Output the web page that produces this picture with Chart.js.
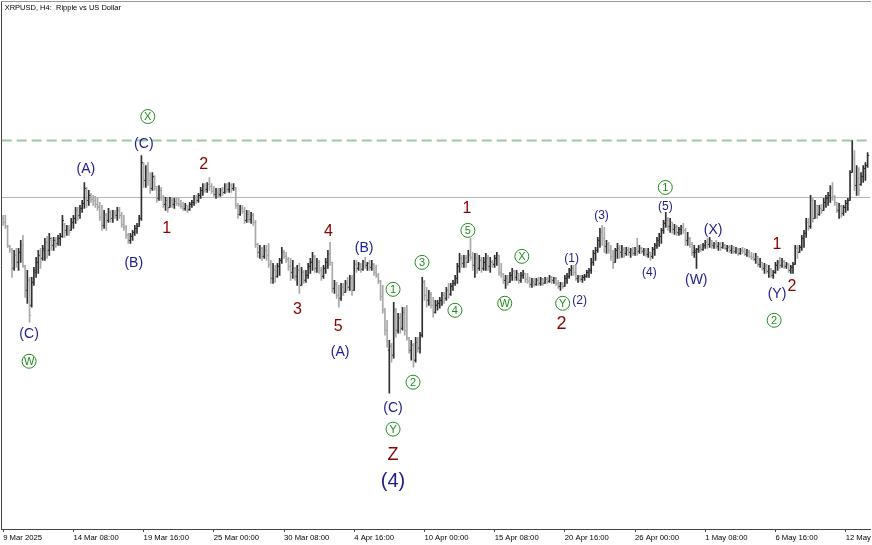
<!DOCTYPE html>
<html lang="en">
<head>
<meta charset="UTF-8">
<title>XRPUSD, H4</title>
<script src="https://cdn.jsdelivr.net/npm/chart.js"></script>
<style>
  body { margin: 0; background: #fff; }
  #wrap { width: 872px; height: 545px; }
</style>
</head>
<body>
<div id="wrap"><canvas id="grafico"></canvas></div>
<script>
const titleText = 'XRPUSD, H4:  Ripple vs US Dollar';

// one label every 32 H4 bars, first bar = 9 Mar 2025 00:00
const tickLabels = ['9 Mar 2025', '14 Mar 08:00', '19 Mar 16:00', '25 Mar 00:00', '30 Mar 08:00',
  '4 Apr 16:00', '10 Apr 00:00', '15 Apr 08:00', '20 Apr 16:00', '26 Apr 00:00',
  '1 May 08:00', '6 May 16:00', '12 May 00:00'];
const barsPerTick = 32;

const highP = [
  2.340,2.340,2.300,2.220,2.208,2.200,2.208,2.208,2.240,2.260,
  2.140,2.120,2.092,2.092,2.132,2.172,2.200,2.208,2.220,2.248,
  2.256,2.268,2.252,2.252,2.252,2.260,2.268,2.340,2.308,2.300,
  2.300,2.328,2.340,2.372,2.372,2.380,2.400,2.472,2.452,2.440,
  2.428,2.420,2.416,2.408,2.392,2.380,2.360,2.348,2.368,2.360,
  2.360,2.360,2.372,2.372,2.352,2.340,2.300,2.268,2.268,2.280,
  2.300,2.308,2.340,2.580,2.552,2.540,2.552,2.512,2.512,2.500,
  2.456,2.460,2.452,2.420,2.412,2.412,2.412,2.408,2.408,2.412,
  2.408,2.400,2.392,2.388,2.380,2.392,2.400,2.420,2.420,2.428,
  2.452,2.468,2.468,2.472,2.492,2.468,2.456,2.448,2.448,2.448,
  2.452,2.468,2.468,2.472,2.468,2.468,2.452,2.388,2.380,2.380,
  2.372,2.360,2.360,2.352,2.348,2.320,2.228,2.220,2.212,2.220,
  2.220,2.228,2.160,2.148,2.140,2.148,2.168,2.212,2.200,2.192,
  2.172,2.168,2.160,2.132,2.140,2.148,2.132,2.120,2.120,2.148,
  2.168,2.192,2.180,2.168,2.160,2.132,2.140,2.168,2.200,2.232,
  2.152,2.080,2.072,2.060,2.068,2.068,2.080,2.092,2.100,2.100,
  2.160,2.160,2.152,2.148,2.160,2.172,2.152,2.160,2.160,2.148,
  2.140,2.108,2.080,2.060,1.968,1.920,1.840,1.828,1.992,1.968,
  1.948,1.948,1.972,1.972,1.980,1.852,1.840,1.828,1.852,1.852,
  1.872,2.092,2.080,2.052,2.040,2.032,2.012,2.000,2.000,2.012,
  2.032,2.032,2.052,2.068,2.068,2.080,2.100,2.148,2.188,2.180,
  2.180,2.180,2.200,2.248,2.192,2.188,2.188,2.180,2.172,2.172,
  2.188,2.180,2.172,2.160,2.180,2.192,2.180,2.148,2.108,2.100,
  2.100,2.112,2.128,2.120,2.120,2.108,2.112,2.120,2.108,2.108,
  2.092,2.088,2.088,2.088,2.092,2.092,2.088,2.092,2.092,2.100,
  2.096,2.092,2.092,2.080,2.072,2.072,2.100,2.108,2.128,2.140,
  2.140,2.140,2.100,2.100,2.100,2.104,2.120,2.128,2.168,2.200,
  2.212,2.252,2.288,2.300,2.292,2.240,2.232,2.220,2.200,2.208,
  2.228,2.220,2.220,2.212,2.212,2.212,2.208,2.212,2.212,2.248,
  2.220,2.212,2.208,2.208,2.208,2.192,2.212,2.228,2.252,2.268,
  2.288,2.320,2.352,2.332,2.328,2.312,2.304,2.300,2.292,2.300,
  2.308,2.288,2.272,2.252,2.232,2.220,2.208,2.220,2.224,2.228,
  2.240,2.248,2.252,2.240,2.232,2.240,2.232,2.232,2.232,2.224,
  2.220,2.220,2.220,2.216,2.212,2.208,2.208,2.212,2.208,2.204,
  2.200,2.192,2.188,2.188,2.176,2.168,2.152,2.148,2.144,2.140,
  2.128,2.120,2.152,2.160,2.172,2.168,2.160,2.152,2.148,2.140,
  2.152,2.220,2.220,2.220,2.260,2.280,2.328,2.328,2.420,2.408,
  2.400,2.380,2.380,2.384,2.408,2.420,2.432,2.460,2.472,2.420,
  2.392,2.388,2.380,2.380,2.400,2.408,2.520,2.640,2.600,2.540,
  2.532,2.512,2.540,2.552,2.592
];

const lowP = [
  2.300,2.288,2.212,2.192,2.092,2.120,2.132,2.120,2.152,2.132,
  2.012,1.988,1.912,1.972,2.060,2.092,2.108,2.128,2.160,2.160,
  2.168,2.180,2.200,2.200,2.212,2.220,2.220,2.252,2.252,2.260,
  2.260,2.280,2.288,2.308,2.320,2.328,2.352,2.368,2.372,2.380,
  2.392,2.380,2.372,2.360,2.320,2.280,2.288,2.280,2.312,2.312,
  2.312,2.328,2.320,2.328,2.292,2.280,2.248,2.228,2.228,2.240,
  2.260,2.268,2.296,2.320,2.452,2.452,2.460,2.428,2.440,2.440,
  2.392,2.400,2.400,2.372,2.360,2.352,2.372,2.372,2.368,2.380,
  2.376,2.368,2.360,2.360,2.352,2.360,2.372,2.380,2.388,2.392,
  2.408,2.420,2.432,2.432,2.440,2.428,2.416,2.408,2.412,2.416,
  2.420,2.428,2.432,2.432,2.432,2.440,2.368,2.328,2.340,2.348,
  2.308,2.312,2.312,2.308,2.300,2.212,2.172,2.168,2.160,2.168,
  2.160,2.132,2.068,2.068,2.072,2.092,2.100,2.148,2.168,2.152,
  2.120,2.080,2.088,2.080,2.060,2.028,2.060,2.068,2.072,2.088,
  2.108,2.120,2.112,2.112,2.108,2.080,2.088,2.108,2.128,2.140,
  2.032,2.028,2.008,1.972,2.000,2.020,2.032,2.040,2.040,2.020,
  2.040,2.112,2.120,2.112,2.120,2.128,2.120,2.120,2.120,2.100,
  2.092,2.068,2.000,1.948,1.860,1.812,1.628,1.752,1.768,1.852,
  1.868,1.868,1.880,1.860,1.840,1.788,1.760,1.732,1.752,1.792,
  1.788,1.852,2.000,1.972,1.980,1.968,1.932,1.948,1.960,1.968,
  1.980,1.988,2.000,2.008,2.020,2.040,2.060,2.068,2.112,2.132,
  2.132,2.132,2.152,2.160,2.120,2.092,2.108,2.120,2.112,2.120,
  2.120,2.120,2.112,2.132,2.132,2.140,2.100,2.092,2.068,2.048,
  2.060,2.072,2.080,2.080,2.080,2.068,2.072,2.088,2.072,2.068,
  2.052,2.052,2.056,2.060,2.060,2.060,2.060,2.068,2.068,2.072,
  2.068,2.068,2.060,2.048,2.040,2.048,2.056,2.068,2.088,2.100,
  2.100,2.080,2.072,2.076,2.072,2.080,2.092,2.092,2.108,2.140,
  2.160,2.192,2.212,2.220,2.192,2.188,2.188,2.160,2.128,2.152,
  2.168,2.168,2.172,2.172,2.180,2.180,2.172,2.180,2.180,2.180,
  2.188,2.188,2.180,2.176,2.172,2.160,2.168,2.180,2.208,2.216,
  2.228,2.268,2.292,2.280,2.272,2.268,2.264,2.260,2.260,2.264,
  2.268,2.220,2.220,2.212,2.180,2.172,2.128,2.192,2.196,2.200,
  2.208,2.208,2.212,2.208,2.208,2.208,2.200,2.200,2.208,2.204,
  2.196,2.192,2.188,2.188,2.188,2.180,2.184,2.188,2.180,2.176,
  2.172,2.164,2.160,2.148,2.136,2.132,2.120,2.108,2.108,2.092,
  2.092,2.088,2.108,2.120,2.128,2.132,2.128,2.128,2.112,2.108,
  2.108,2.144,2.168,2.192,2.200,2.212,2.252,2.280,2.288,2.312,
  2.328,2.328,2.340,2.348,2.360,2.372,2.380,2.392,2.400,2.380,
  2.352,2.328,2.332,2.340,2.352,2.360,2.400,2.512,2.440,2.420,
  2.420,2.460,2.472,2.480,2.532
];

const openP = [
  2.328,2.312,2.296,2.216,2.204,2.128,2.180,2.152,2.192,2.220,
  2.136,2.040,2.080,1.980,2.072,2.112,2.152,2.176,2.168,2.200,
  2.232,2.200,2.240,2.220,2.236,2.228,2.248,2.256,2.304,2.280,
  2.288,2.280,2.312,2.328,2.360,2.340,2.368,2.388,2.440,2.400,
  2.416,2.404,2.400,2.384,2.376,2.332,2.300,2.340,2.320,2.352,
  2.328,2.348,2.340,2.360,2.340,2.304,2.292,2.260,2.240,2.256,
  2.272,2.288,2.296,2.328,2.548,2.480,2.520,2.480,2.448,2.492,
  2.448,2.408,2.440,2.412,2.384,2.400,2.372,2.400,2.384,2.396,
  2.388,2.384,2.376,2.368,2.380,2.364,2.384,2.392,2.412,2.400,
  2.420,2.440,2.456,2.444,2.464,2.456,2.436,2.424,2.432,2.424,
  2.440,2.432,2.456,2.444,2.460,2.448,2.452,2.380,2.344,2.368,
  2.356,2.320,2.344,2.324,2.340,2.312,2.224,2.192,2.208,2.176,
  2.200,2.180,2.144,2.088,2.120,2.096,2.136,2.160,2.192,2.176,
  2.164,2.136,2.112,2.128,2.096,2.120,2.060,2.112,2.080,2.100,
  2.136,2.152,2.176,2.128,2.152,2.120,2.096,2.128,2.152,2.184,
  2.152,2.048,2.064,2.020,2.008,2.052,2.032,2.068,2.052,2.088,
  2.040,2.144,2.128,2.144,2.124,2.152,2.140,2.148,2.132,2.144,
  2.112,2.100,2.076,2.016,1.960,1.880,1.800,1.816,1.780,1.960,
  1.880,1.928,1.888,1.952,1.880,1.848,1.800,1.820,1.760,1.832,
  1.808,1.860,2.072,2.020,2.000,2.024,1.980,1.952,1.980,1.988,
  2.000,2.020,2.008,2.040,2.024,2.056,2.068,2.088,2.136,2.168,
  2.148,2.168,2.152,2.180,2.172,2.140,2.168,2.128,2.160,2.128,
  2.152,2.168,2.136,2.152,2.144,2.168,2.180,2.112,2.104,2.080,
  2.088,2.072,2.100,2.116,2.092,2.108,2.080,2.100,2.108,2.084,
  2.076,2.064,2.072,2.064,2.080,2.068,2.084,2.068,2.084,2.076,
  2.092,2.080,2.088,2.068,2.056,2.064,2.056,2.088,2.096,2.120,
  2.128,2.112,2.088,2.096,2.084,2.092,2.096,2.112,2.120,2.152,
  2.188,2.200,2.240,2.272,2.248,2.216,2.224,2.200,2.176,2.152,
  2.200,2.208,2.192,2.204,2.188,2.200,2.192,2.200,2.188,2.204,
  2.196,2.208,2.196,2.200,2.184,2.192,2.176,2.204,2.220,2.240,
  2.256,2.280,2.308,2.320,2.296,2.312,2.284,2.292,2.272,2.284,
  2.292,2.280,2.240,2.248,2.224,2.192,2.192,2.204,2.212,2.204,
  2.220,2.232,2.224,2.240,2.220,2.224,2.216,2.224,2.212,2.220,
  2.208,2.212,2.200,2.208,2.196,2.204,2.188,2.200,2.196,2.184,
  2.192,2.176,2.172,2.164,2.176,2.144,2.152,2.128,2.136,2.116,
  2.124,2.100,2.112,2.140,2.152,2.140,2.156,2.136,2.144,2.120,
  2.132,2.144,2.208,2.192,2.212,2.248,2.268,2.312,2.296,2.400,
  2.328,2.380,2.344,2.368,2.360,2.392,2.408,2.420,2.448,2.416,
  2.392,2.360,2.376,2.348,2.372,2.388,2.400,2.512,2.568,2.460,
  2.488,2.464,2.496,2.528,2.540
];

const closeP = [
  2.312,2.296,2.220,2.204,2.120,2.180,2.152,2.192,2.220,2.140,
  2.040,2.080,1.940,2.072,2.120,2.152,2.180,2.152,2.208,2.232,
  2.192,2.248,2.220,2.240,2.224,2.248,2.256,2.320,2.272,2.288,
  2.272,2.312,2.328,2.360,2.336,2.368,2.388,2.448,2.400,2.420,
  2.404,2.400,2.384,2.372,2.332,2.300,2.340,2.312,2.352,2.328,
  2.348,2.340,2.360,2.340,2.304,2.292,2.260,2.240,2.256,2.272,
  2.288,2.296,2.328,2.552,2.480,2.520,2.480,2.440,2.496,2.456,
  2.408,2.440,2.412,2.384,2.400,2.368,2.400,2.384,2.396,2.388,
  2.384,2.376,2.368,2.380,2.360,2.384,2.392,2.412,2.400,2.420,
  2.440,2.456,2.444,2.464,2.456,2.436,2.424,2.432,2.424,2.440,
  2.432,2.456,2.444,2.460,2.448,2.452,2.380,2.344,2.368,2.356,
  2.320,2.344,2.324,2.340,2.312,2.224,2.192,2.208,2.176,2.200,
  2.180,2.144,2.088,2.120,2.096,2.136,2.160,2.192,2.176,2.164,
  2.136,2.112,2.128,2.096,2.120,2.060,2.112,2.080,2.100,2.136,
  2.152,2.176,2.128,2.152,2.120,2.096,2.128,2.152,2.184,2.152,
  2.048,2.064,2.020,2.008,2.052,2.032,2.068,2.052,2.088,2.040,
  2.144,2.128,2.144,2.124,2.152,2.140,2.148,2.132,2.144,2.112,
  2.100,2.076,2.016,1.960,1.880,1.832,1.816,1.768,1.960,1.880,
  1.928,1.888,1.952,1.880,1.848,1.800,1.820,1.760,1.832,1.808,
  1.860,2.072,2.020,2.000,2.024,1.980,1.952,1.980,1.988,2.000,
  2.020,2.008,2.040,2.024,2.056,2.068,2.088,2.136,2.168,2.148,
  2.168,2.152,2.180,2.172,2.140,2.168,2.128,2.160,2.128,2.152,
  2.168,2.136,2.152,2.144,2.168,2.180,2.112,2.104,2.080,2.088,
  2.072,2.100,2.116,2.092,2.108,2.080,2.100,2.108,2.084,2.076,
  2.064,2.072,2.064,2.080,2.068,2.084,2.068,2.084,2.076,2.092,
  2.080,2.088,2.068,2.056,2.064,2.056,2.088,2.096,2.120,2.128,
  2.112,2.088,2.096,2.084,2.092,2.096,2.112,2.120,2.152,2.188,
  2.200,2.240,2.272,2.248,2.216,2.224,2.200,2.176,2.152,2.200,
  2.208,2.192,2.204,2.188,2.200,2.192,2.200,2.188,2.204,2.196,
  2.208,2.196,2.200,2.184,2.192,2.176,2.204,2.220,2.240,2.256,
  2.280,2.308,2.320,2.296,2.312,2.284,2.292,2.272,2.284,2.292,
  2.280,2.240,2.248,2.224,2.192,2.200,2.204,2.212,2.204,2.220,
  2.232,2.224,2.240,2.220,2.224,2.216,2.224,2.212,2.220,2.208,
  2.212,2.200,2.208,2.196,2.204,2.188,2.200,2.196,2.184,2.192,
  2.176,2.172,2.164,2.176,2.144,2.152,2.128,2.136,2.116,2.124,
  2.100,2.112,2.140,2.152,2.140,2.156,2.136,2.144,2.120,2.132,
  2.144,2.208,2.192,2.212,2.248,2.268,2.312,2.296,2.400,2.328,
  2.380,2.344,2.368,2.360,2.392,2.408,2.420,2.448,2.416,2.392,
  2.360,2.376,2.348,2.372,2.388,2.400,2.512,2.568,2.460,2.488,
  2.440,2.496,2.528,2.540,2.580
];

// horizontal levels drawn on the chart
const dashedLevel = 2.640;
const greyLevel = 2.412;

// wave marks: t = text, i = bar index, p = price, k = style kind
const waveLabels = [
  {t: '(C)', i: 11.8, p: 1.868, k: 'n'}, {t: 'W', i: 11.8, p: 1.756, k: 'c'},
  {t: '(A)', i: 37.7, p: 2.528, k: 'n'}, {t: '(B)', i: 59.5, p: 2.152, k: 'n'},
  {t: '(C)', i: 64.1, p: 2.628, k: 'n'}, {t: 'X', i: 65.9, p: 2.736, k: 'c'},
  {t: '1', i: 74.5, p: 2.292, k: 'r'}, {t: '2', i: 91.4, p: 2.548, k: 'r'},
  {t: '3', i: 134.1, p: 1.968, k: 'r'}, {t: '4', i: 148.2, p: 2.280, k: 'r'},
  {t: '5', i: 152.7, p: 1.900, k: 'r'}, {t: '(A)', i: 153.6, p: 1.796, k: 'n'},
  {t: '(B)', i: 164.5, p: 2.212, k: 'n'}, {t: '1', i: 177.7, p: 2.044, k: 'c'},
  {t: '2', i: 186.8, p: 1.672, k: 'c'}, {t: '3', i: 190.9, p: 2.152, k: 'c'},
  {t: '(C)', i: 177.7, p: 1.572, k: 'n'}, {t: 'Y', i: 177.7, p: 1.484, k: 'c'},
  {t: 'Z', i: 177.7, p: 1.384, k: 'R'}, {t: '(4)', i: 177.7, p: 1.280, k: 'N'},
  {t: '4', i: 205.9, p: 1.960, k: 'c'}, {t: '5', i: 211.8, p: 2.280, k: 'c'},
  {t: '1', i: 211.4, p: 2.372, k: 'r'}, {t: 'W', i: 228.6, p: 1.988, k: 'c'},
  {t: 'X', i: 236.4, p: 2.176, k: 'c'}, {t: '(1)', i: 259.1, p: 2.172, k: 's'},
  {t: 'Y', i: 255.0, p: 1.988, k: 'c'}, {t: '(2)', i: 262.7, p: 2.004, k: 's'},
  {t: '2', i: 254.5, p: 1.908, k: 'R'}, {t: '(3)', i: 272.7, p: 2.344, k: 's'},
  {t: '(4)', i: 294.5, p: 2.116, k: 's'}, {t: '(5)', i: 301.8, p: 2.380, k: 's'},
  {t: '1', i: 301.8, p: 2.452, k: 'c'}, {t: '(W)', i: 315.9, p: 2.084, k: 'n'},
  {t: '(X)', i: 323.6, p: 2.284, k: 'n'}, {t: '1', i: 352.7, p: 2.228, k: 'r'},
  {t: '(Y)', i: 352.7, p: 2.028, k: 'n'}, {t: '2', i: 359.5, p: 2.060, k: 'r'},
  {t: '2', i: 351.4, p: 1.920, k: 'c'}
];

const FONT = '"Liberation Sans", Arial, sans-serif';
const waveStyles = {
  n: {color: '#1c1c8c', size: 14},
  s: {color: '#1c1c8c', size: 12},
  N: {color: '#1c1c8c', size: 20},
  r: {color: '#8b0000', size: 16},
  R: {color: '#8b0000', size: 18},
  c: {color: '#1f8c1f', size: 11}
};

const xMin = -0.68, xMax = 395.23;
const yMin = 1.084, yMax = 3.196;

const barColors = openP.map((o, i) => closeP[i] >= o ? '#2e2e2e' : '#a8a8a8');

const wavePlugin = {
  id: 'waves',
  afterDatasetsDraw(chart) {
    const {ctx, chartArea} = chart;
    const x = chart.scales.x, y = chart.scales.y;
    ctx.save();
    ctx.textAlign = 'center';
    ctx.textBaseline = 'middle';
    waveLabels.forEach(l => {
      const st = waveStyles[l.k];
      const px = x.getPixelForValue(l.i);
      const py = y.getPixelForValue(l.p);
      ctx.fillStyle = st.color;
      ctx.font = st.size + 'px ' + FONT;
      if (l.k === 'c') {
        ctx.beginPath();
        ctx.arc(px, py, 7, 0, Math.PI * 2);
        ctx.strokeStyle = st.color;
        ctx.lineWidth = 1;
        ctx.stroke();
        ctx.fillText(l.t, px, py + 0.5);
      } else {
        ctx.fillText(l.t, px, py + 1);
      }
    });
    ctx.textAlign = 'left';
    ctx.fillStyle = '#000';
    ctx.font = '7.5px ' + FONT;
    ctx.fillText(titleText, chartArea.left + 3, chartArea.top + 6);
    ctx.restore();
  }
};

new Chart(document.getElementById('grafico'), {
  type: 'bar',
  data: {
    datasets: [
      {
        type: 'line',
        data: [{x: xMin, y: dashedLevel}, {x: xMax, y: dashedLevel}],
        borderColor: '#9dca9d', borderWidth: 2, borderDash: [10, 5],
        pointRadius: 0, order: 4
      },
      {
        type: 'line',
        data: [{x: xMin, y: greyLevel}, {x: xMax, y: greyLevel}],
        borderColor: '#b4b4b4', borderWidth: 1,
        pointRadius: 0, order: 3
      },
      {
        type: 'bar',
        data: highP.map((h, i) => ({x: i, y: [lowP[i], h]})),
        backgroundColor: barColors,
        borderWidth: 0,
        barThickness: 1,
        order: 2
      },
      {
        type: 'scatter',
        data: openP.map((v, i) => ({x: i - 0.4, y: v})),
        pointStyle: 'line', pointRadius: 0.7, pointHoverRadius: 0.7,
        pointBorderWidth: 1, pointBorderColor: barColors, order: 1
      },
      {
        type: 'scatter',
        data: closeP.map((v, i) => ({x: i + 0.4, y: v})),
        pointStyle: 'line', pointRadius: 0.7, pointHoverRadius: 0.7,
        pointBorderWidth: 1, pointBorderColor: barColors, order: 1
      }
    ]
  },
  options: {
    responsive: true,
    maintainAspectRatio: false,
    animation: false,
    devicePixelRatio: 1,
    events: [],
    layout: {padding: 0},
    plugins: {legend: {display: false}, tooltip: {enabled: false}},
    scales: {
      x: {
        type: 'linear', position: 'bottom', min: xMin, max: xMax, offset: false,
        grid: {display: true, drawOnChartArea: false, drawTicks: true, tickLength: 3, color: '#444', offset: false},
        border: {display: true, color: '#444'},
        ticks: {
          autoSkip: false, maxRotation: 0, minRotation: 0, align: 'start', padding: 1,
          color: '#000', font: {family: FONT, size: 7.7},
          callback: (v, idx) => tickLabels[idx]
        },
        afterBuildTicks: s => { s.ticks = tickLabels.map((_, k) => ({value: k * barsPerTick})); },
        afterFit: s => { s.height = 16; s.paddingLeft = 0; s.paddingRight = 0; }
      },
      y: {
        type: 'linear', position: 'left', min: yMin, max: yMax,
        grid: {display: false, drawTicks: false},
        ticks: {display: false},
        border: {display: true, color: '#444'},
        afterFit: s => { s.width = 1; }
      },
      top: {
        type: 'linear', position: 'top', min: xMin, max: xMax,
        grid: {display: false, drawTicks: false},
        ticks: {display: false},
        border: {display: true, color: '#999'},
        afterFit: s => { s.height = 1; }
      }
    }
  },
  plugins: [wavePlugin]
});
</script>
</body>
</html>
